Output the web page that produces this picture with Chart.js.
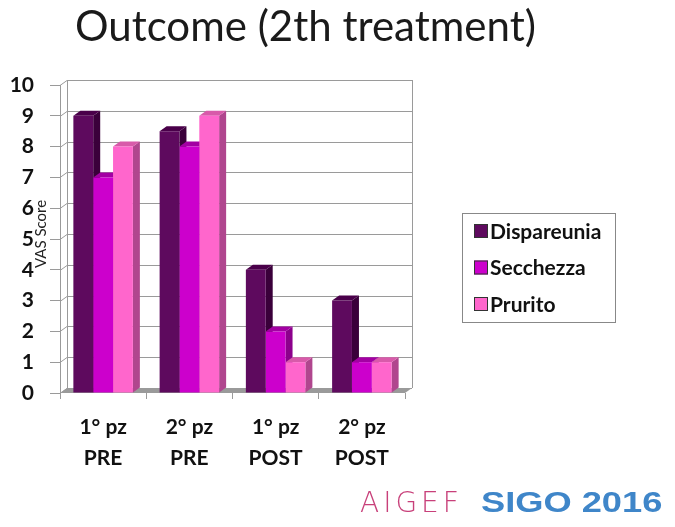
<!DOCTYPE html>
<html>
<head>
<meta charset="utf-8">
<script src="https://cdn.jsdelivr.net/npm/chart.js@4"></script>
<style>
  html, body { margin: 0; padding: 0; background: #fff; }
  #wrap { position: relative; width: 675px; height: 527px; }
  #title { position: absolute; left: 75px; top: 0px; font: 42px Lato, "Open Sans", sans-serif; color: #1a1a1a; white-space: nowrap; }
  #logo { position: absolute; left: 360px; top: 486px; white-space: nowrap; }
  #logo .aigef { font: 28px "DejaVu Sans", sans-serif; color: #c8407a; letter-spacing: 4px; font-weight: 300; }
  #logo .sigo { display: inline-block; font: bold 29px "Liberation Sans", Arial, sans-serif; color: #3f86c9; margin-left: 18px; transform: scaleX(1.25); transform-origin: left center; }
  canvas { position: absolute; left: 0; top: 0; }
</style>
</head>
<body>
<div id="wrap">
  <canvas id="chart" width="675" height="527"></canvas>
  <div id="title">Outcome (2th treatment)</div>
  <div id="logo"><span class="aigef">AIGEF</span><span class="sigo">SIGO 2016</span></div>
</div>
<script>
const categories = [["1° pz", "PRE"], ["2° pz", "PRE"], ["1° pz", "POST"], ["2° pz", "POST"]];
const seriesNames = ["Dispareunia", "Secchezza", "Prurito"];
const dispareunia = [9, 8.5, 4, 3];
const secchezza = [7, 8, 2, 1];
const prurito = [8, 9, 1, 1];
const yTicks = [0, 1, 2, 3, 4, 5, 6, 7, 8, 9, 10];

const frontColors = ["#5e0a5e", "#cc00cc", "#ff66cc"];
const sideColors = ["#3a003a", "#8c008c", "#b0468e"];
const topColors = ["#4a004a", "#a300a3", "#d85aaa"];
const DX = 7, DY = 5;

const depthPlugin = {
  id: "depth",
  beforeDatasetsDraw(chart) {
    const ctx = chart.ctx;
    const a = chart.chartArea;
    const y = chart.scales.y;
    ctx.save();
    // floor
    ctx.fillStyle = "#9a9a9a";
    ctx.beginPath();
    ctx.moveTo(a.left, a.bottom);
    ctx.lineTo(a.right, a.bottom);
    ctx.lineTo(a.right + DX, a.bottom - DY);
    ctx.lineTo(a.left + DX, a.bottom - DY);
    ctx.closePath();
    ctx.fill();
    // back wall grid
    ctx.strokeStyle = "#9a9a9a";
    ctx.lineWidth = 1;
    yTicks.forEach(v => {
      const py = Math.round(y.getPixelForValue(v)) + 0.5;
      ctx.beginPath();
      ctx.moveTo(a.left, py);
      ctx.lineTo(a.left + DX, py - DY);
      ctx.lineTo(a.right + DX, py - DY);
      ctx.stroke();
    });
    ctx.beginPath();
    ctx.moveTo(a.left + 0.5, a.bottom);
    ctx.lineTo(a.left + 0.5, a.top);
    ctx.moveTo(a.left + DX + 0.5, a.bottom - DY);
    ctx.lineTo(a.left + DX + 0.5, a.top - DY);
    ctx.moveTo(a.right + DX + 0.5, a.bottom - DY);
    ctx.lineTo(a.right + DX + 0.5, a.top - DY);
    ctx.stroke();
    // bar side and top faces
    const n = chart.data.labels.length;
    for (let i = 0; i < n; i++) {
      chart.data.datasets.forEach((ds, d) => {
        const bar = chart.getDatasetMeta(d).data[i];
        const l = bar.x - bar.width / 2, r = bar.x + bar.width / 2;
        const t = bar.y, b = bar.base;
        ctx.fillStyle = sideColors[d];
        ctx.beginPath();
        ctx.moveTo(r, t); ctx.lineTo(r + DX, t - DY); ctx.lineTo(r + DX, b - DY); ctx.lineTo(r, b);
        ctx.closePath(); ctx.fill();
        ctx.fillStyle = topColors[d];
        ctx.beginPath();
        ctx.moveTo(l, t); ctx.lineTo(l + DX, t - DY); ctx.lineTo(r + DX, t - DY); ctx.lineTo(r, t);
        ctx.closePath(); ctx.fill();
      });
    }
    ctx.restore();
  },
  afterDraw(chart) {
    const ctx = chart.ctx;
    ctx.save();
    // y title
    ctx.translate(41, 234);
    ctx.rotate(-Math.PI / 2);
    ctx.fillStyle = "#222";
    ctx.font = "15px Lato, sans-serif";
    ctx.textAlign = "center";
    ctx.textBaseline = "middle";
    ctx.fillText("VAS Score", 0, 0);
    ctx.restore();
    // legend box
    ctx.save();
    ctx.strokeStyle = "#888";
    ctx.lineWidth = 1;
    ctx.strokeRect(462.5, 213.5, 153, 109);
    ctx.font = "bold 21px Lato, sans-serif";
    ctx.textBaseline = "middle";
    chart.data.datasets.forEach((ds, d) => {
      const cy = 231 + d * 36.5;
      ctx.fillStyle = ds.backgroundColor;
      ctx.fillRect(474, cy - 7, 14, 14);
      ctx.strokeStyle = "#333";
      ctx.strokeRect(474.5, cy - 6.5, 13, 13);
      ctx.fillStyle = "#111";
      ctx.fillText(ds.label, 490, cy + 1);
    });
    ctx.restore();
  }
};

new Chart(document.getElementById("chart"), {
  type: "bar",
  data: {
    labels: categories,
    datasets: [
      { label: seriesNames[0], data: dispareunia, backgroundColor: frontColors[0] },
      { label: seriesNames[1], data: secchezza, backgroundColor: frontColors[1] },
      { label: seriesNames[2], data: prurito, backgroundColor: frontColors[2] }
    ]
  },
  options: {
    responsive: false,
    animation: false,
    layout: { padding: { left: 0, top: 85, right: 270, bottom: 0 } },
    datasets: { bar: { categoryPercentage: 0.69, barPercentage: 1 } },
    plugins: { legend: { display: false }, tooltip: { enabled: false } },
    scales: {
      x: {
        afterFit: s => { s.height = 134; },
        border: { display: false },
        grid: { display: true, drawOnChartArea: false, offset: true, tickLength: 6, color: "#9a9a9a" },
        ticks: { color: "#111", padding: 12, font: { family: "Lato", size: 21, weight: "bold", lineHeight: 1.5 } }
      },
      y: {
        min: 0, max: 10,
        afterFit: s => { s.width = 60; },
        afterBuildTicks: s => { s.ticks = yTicks.map(v => ({ value: v })); },
        border: { display: false },
        grid: { display: true, drawOnChartArea: false, tickLength: 10, color: "#9a9a9a" },
        ticks: { color: "#111", padding: 16, font: { family: "Lato", size: 21, weight: "bold" } }
      }
    }
  },
  plugins: [depthPlugin]
});
</script>
</body>
</html>
